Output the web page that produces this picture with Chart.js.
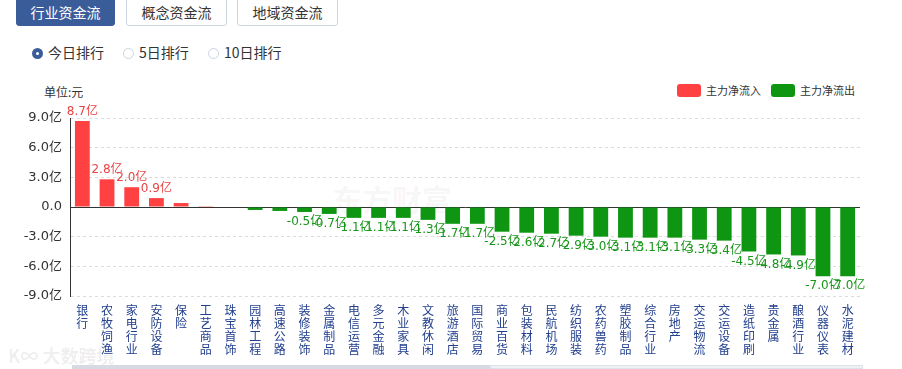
<!DOCTYPE html>
<html>
<head>
<meta charset="utf-8">
<script src="https://cdn.jsdelivr.net/npm/chart.js@4"></script>
<style>
  body { margin: 0; width: 902px; height: 369px; background: #fff; position: relative; overflow: hidden;
         font-family: "Noto Sans CJK SC", sans-serif; color: #333; }
  .tab { position: absolute; top: -3px; height: 29px; width: 99px; border: 1px solid #c9d6e3; border-radius: 3px;
         font-size: 14px; line-height: 29px; text-align: center; color: #333; box-sizing: border-box; background: #fff; }
  .tab.on { background: #3a5d9a; border-color: #3a5d9a; color: #fff; }
  .radio { position: absolute; top: 43px; font-size: 14px; line-height: 18px; }
  .radio i { display: inline-block; width: 11px; height: 11px; border: 1px solid #c9d6e3; border-radius: 50%;
             vertical-align: -1px; margin-right: 5px; box-sizing: border-box; }
  .radio.on i { border: 4px solid #3a5d9a; }
  #unit { position: absolute; left: 44px; top: 83px; font-size: 12px; }
  #legend { position: absolute; top: 82px; left: 677px; font-size: 11px; color: #333; }
  #legend span { display: inline-block; margin-right: 10px; }
  #legend b { display: inline-block; width: 24px; height: 13px; border-radius: 3px; vertical-align: -2px; margin-right: 5px; }
  #wrap { position: absolute; left: 0; top: 70px; width: 902px; height: 299px; }
  .wm { position: absolute; color: rgba(0,0,0,0.05); font-weight: bold; }
  #scroll1 { position: absolute; left: 72px; top: 365px; width: 418px; height: 4px; background: #d5dae3; }
  #scroll2 { position: absolute; left: 490px; top: 365px; width: 373px; height: 4px; background: #eef0f4; border: 1px solid #dde2ea; box-sizing: border-box; }
</style>
</head>
<body>
<div class="tab on" style="left:16px">行业资金流</div>
<div class="tab" style="left:126px;width:101px">概念资金流</div>
<div class="tab" style="left:237px;width:101px">地域资金流</div>
<div class="radio on" style="left:32px"><i></i>今日排行</div>
<div class="radio" style="left:123px"><i></i>5日排行</div>
<div class="radio" style="left:208px"><i></i>10日排行</div>
<div id="unit">单位:元</div>
<div id="legend"><span><b style="background:#ff4141"></b>主力净流入</span><span><b style="background:#0e9612"></b>主力净流出</span></div>
<div class="wm" style="left:332px;top:176px;font-size:30px">东方财富</div>
<div class="wm" style="left:8px;top:342px;font-size:18px;color:rgba(0,0,0,0.08)">K∞ 大数跨境</div>
<div id="wrap"><canvas id="chart"></canvas></div>
<div id="scroll1"></div><div id="scroll2"></div>
<script>
// industries, today's main net flow (亿元)
const categories = ['银行', '农牧饲渔', '家电行业', '安防设备', '保险', '工艺商品', '珠宝首饰', '园林工程',
  '高速公路', '装修装饰', '金属制品', '电信运营', '多元金融', '木业家具', '文教休闲', '旅游酒店',
  '国际贸易', '商业百货', '包装材料', '民航机场', '纺织服装', '农药兽药', '塑胶制品', '综合行业',
  '房地产', '交运物流', '交运设备', '造纸印刷', '贵金属', '酿酒行业', '仪器仪表', '水泥建材'];
const netFlow = [8.7, 2.8, 2.0, 0.9, 0.4, 0.02, -0.05, -0.3,
  -0.4, -0.5, -0.7, -1.1, -1.1, -1.1, -1.3, -1.7,
  -1.7, -2.5, -2.6, -2.7, -2.9, -3.0, -3.1, -3.1,
  -3.1, -3.3, -3.4, -4.5, -4.8, -4.9, -7.0, -7.0];
const yTicks = [-9, -6, -3, 0, 3, 6, 9];

const inflow = netFlow.map(v => v > 0 ? v : null);
const outflow = netFlow.map(v => v <= 0 ? v : null);

// value labels above / below the bars
const valueLabels = {
  id: 'valueLabels',
  afterDatasetsDraw(chart) {
    const ctx = chart.ctx;
    ctx.save();
    ctx.font = '12px "DejaVu Sans", "Noto Sans CJK SC"';
    ctx.textAlign = 'center';
    chart.data.datasets.forEach((ds, di) => {
      const meta = chart.getDatasetMeta(di);
      meta.data.forEach((bar, i) => {
        const v = ds.data[i];
        if (v === null || Math.abs(v) < 0.5) return;
        const txt = v.toFixed(1) + '亿';
        if (v > 0) {
          ctx.fillStyle = '#e84444';
          ctx.textBaseline = 'bottom';
          ctx.fillText(txt, bar.x, bar.y - 3);
        } else {
          ctx.fillStyle = '#18961a';
          ctx.textBaseline = 'top';
          ctx.fillText(txt, bar.x, bar.y + 4);
        }
      });
    });
    ctx.restore();
  }
};

new Chart(document.getElementById('chart'), {
  type: 'bar',
  data: {
    labels: categories.map(c => c.split('')),
    datasets: [
      { label: '主力净流入', data: inflow, backgroundColor: '#ff4141' },
      { label: '主力净流出', data: outflow, backgroundColor: '#0e9612' }
    ]
  },
  options: {
    responsive: true,
    maintainAspectRatio: false,
    animation: false,
    layout: { padding: { top: 48, right: 42, left: 0, bottom: 0 } },
    datasets: { bar: { barPercentage: 0.6, categoryPercentage: 1 } },
    plugins: { legend: { display: false }, tooltip: { enabled: false } },
    scales: {
      x: {
        stacked: true,
        grid: { display: false, drawTicks: false },
        border: { display: false },
        ticks: {
          autoSkip: false, maxRotation: 0, padding: 8, color: '#23408e',
          font: { size: 12, family: '"Noto Sans CJK SC"', lineHeight: 1.08 }
        },
        afterFit: s => { s.height = 73; }
      },
      y: {
        stacked: true,
        min: -9, max: 9,
        afterBuildTicks: s => { s.ticks = yTicks.map(v => ({ value: v })); },
        grid: {
          drawTicks: false,
          color: c => c.tick && c.tick.value === 0 ? '#333' : '#dcdcdc'
        },
        border: {
          display: true, color: '#333',
          dash: c => c.tick && c.tick.value === 0 ? [] : [3, 3]
        },
        ticks: {
          padding: 8, color: '#333',
          font: { size: 13, family: '"DejaVu Sans", "Noto Sans CJK SC"' },
          callback: v => v === 0 ? '0.0' : v.toFixed(1) + '亿'
        },
        afterFit: s => { s.width = 70; }
      }
    }
  },
  plugins: [valueLabels]
});
</script>
</body>
</html>
